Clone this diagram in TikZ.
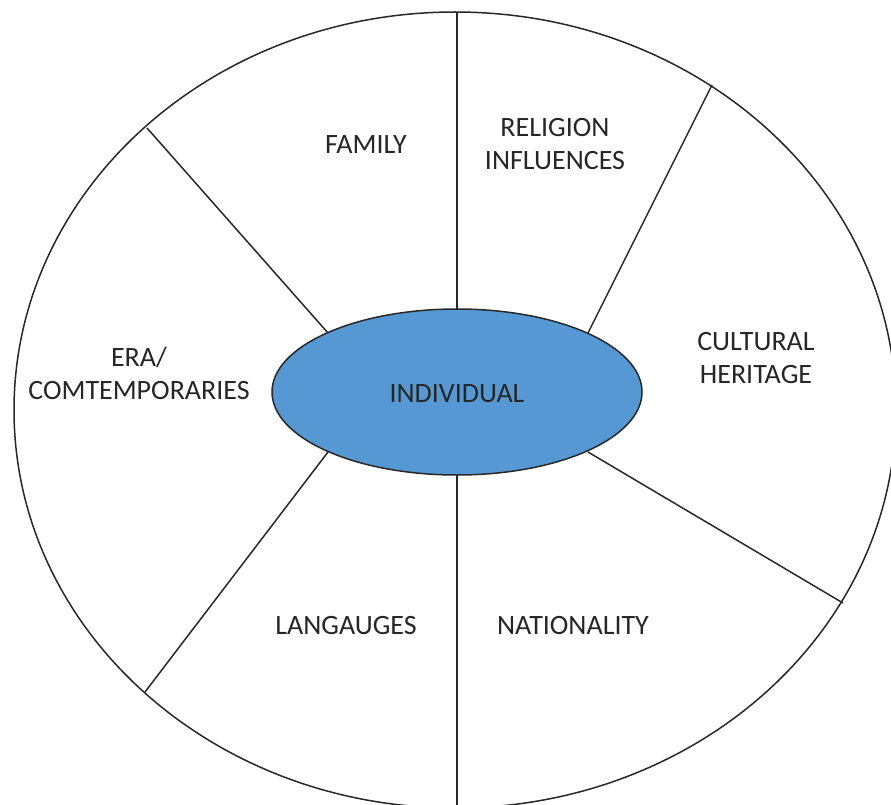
\documentclass[tikz,border=0pt]{standalone}
\usepackage{fontspec}
\setmainfont{Carlito}
\usetikzlibrary{shapes.geometric}
\definecolor{indblue}{RGB}{86,152,211}
\definecolor{linegray}{RGB}{40,40,40}
\begin{document}
\begin{tikzpicture}[x=1pt,y=-1pt,
  ring/.style={draw=linegray,line width=1.5pt,ellipse,inner sep=0pt},
  divider/.style={draw=linegray,line width=1.5pt},
  lbl/.style={font=\fontsize{28}{33}\selectfont,align=center,text=black!85,inner sep=0pt}]
\useasboundingbox (0,0) rectangle (891,805);
% dividers
\coordinate (ot) at (457,12);
\coordinate (it) at (457,309);
\coordinate (ob) at (457,810);
\coordinate (ib) at (457,475);
\coordinate (oul) at (147,128);
\coordinate (iul) at (328,333);
\coordinate (our) at (712,85);
\coordinate (iur) at (588,333);
\coordinate (olr) at (843,603);
\coordinate (ilr) at (588,452);
\coordinate (oll) at (145,692);
\coordinate (ill) at (328,452);
\node[ring,minimum width=882pt,minimum height=796pt] (outer) at (455,410) {};
\draw[divider] (it) -- (ot);
\draw[divider] (ib) -- (ob);
\draw[divider] (iul) -- (oul);
\draw[divider] (iur) -- (our);
\draw[divider] (ilr) -- (olr);
\draw[divider] (ill) -- (oll);
\node[ring,fill=indblue,minimum width=370pt,minimum height=166pt] (inner) at (457,392) {};
\node[lbl] (ind) at (457,394) {INDIVIDUAL};
\node[lbl] (fam) at (366,145) {FAMILY};
\node[lbl] (rel) at (555,144) {RELIGION\\INFLUENCES};
\node[lbl] (cul) at (756,358) {CULTURAL\\HERITAGE};
\node[lbl] (era) at (139,373) {ERA/\\COMTEMPORARIES};
\node[lbl] (lan) at (346,626) {LANGAUGES};
\node[lbl] (nat) at (573,626) {NATIONALITY};
\end{tikzpicture}
\end{document}
